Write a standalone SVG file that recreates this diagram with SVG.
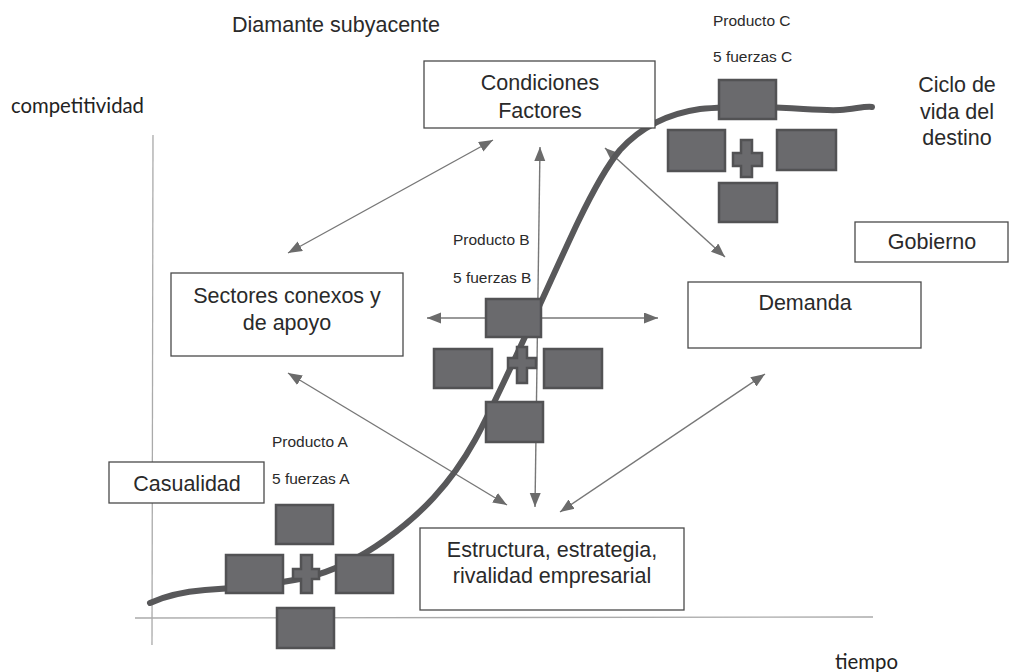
<svg xmlns="http://www.w3.org/2000/svg" width="1011" height="672" viewBox="0 0 1011 672">
<style>
.t{font-family:"Liberation Sans",Arial,sans-serif;font-size:21.5px;fill:#2a2a2a;text-anchor:middle}
.s{font-family:"Liberation Sans",Arial,sans-serif;font-size:15.5px;fill:#2a2a2a}
.c{font-family:Lato,"Open Sans",sans-serif;font-size:21px;fill:#222}
.box{fill:#fff;stroke:#4a4a4a;stroke-width:1.3}
.dk{fill:#6a6a6d;stroke:#525254;stroke-width:2.5}
.ar{fill:none;stroke:#777;stroke-width:1.4;marker-start:url(#ah);marker-end:url(#ah)}
.ax{fill:none;stroke:#aaa;stroke-width:1.3}
</style>
<defs>
<marker id="ah" markerUnits="userSpaceOnUse" markerWidth="15" markerHeight="12" refX="14" refY="5.5" orient="auto-start-reverse">
<path d="M0,0 L14,5.5 L0,11 Z" fill="#6b6b6b"/>
</marker>
</defs>
<rect width="1011" height="672" fill="#fff"/>
<g id="axes">
<line class="ax" x1="153" y1="135" x2="152" y2="645"/>
<line class="ax" x1="135" y1="618" x2="873" y2="617"/>
</g>
<g id="connectors">
<line class="ar" x1="288" y1="253" x2="493" y2="140"/>
<line class="ar" x1="535" y1="507" x2="540" y2="147"/>
<line class="ar" x1="427" y1="318" x2="658" y2="318"/>
<line class="ar" x1="605" y1="148" x2="725" y2="257"/>
<line class="ar" x1="288" y1="373" x2="507" y2="505"/>
<line class="ar" x1="560" y1="512" x2="765" y2="374"/>
</g>
<g id="curve">
<path d="M150,603 C165,596 180,592 205,590 C240,588 275,584 305,578 C335,571 360,558 385,540 C420,515 450,485 475,440 C500,395 555,270 578,222 C592,193 605,168 620,150 C640,128 665,114 700,109 C720,107 740,107 760,107 C800,108 820,111 840,110 C855,109 865,106 872,107" fill="none" stroke="#58585a" stroke-width="6" stroke-linecap="round"/>
</g>
<g id="productoA">
<rect class="dk" x="276" y="505" width="57" height="39"/>
<rect class="dk" x="226" y="555" width="57" height="38"/>
<rect class="dk" x="336" y="555" width="57" height="38"/>
<rect class="dk" x="277" y="608" width="57" height="40"/>
<path class="dk" d="M301,555 H312 V569 H319 V579 H312 V593 H301 V579 H293 V569 H301 Z"/>
<text class="s" x="272" y="447">Producto A</text>
<text class="s" x="272" y="484">5 fuerzas A</text>
</g>
<g id="productoB">
<rect class="dk" x="486" y="299" width="55" height="38"/>
<rect class="dk" x="434" y="349" width="58" height="39"/>
<rect class="dk" x="544" y="349" width="58" height="39"/>
<rect class="dk" x="486" y="402" width="57" height="40"/>
<path class="dk" d="M517,347 H527 V358 H536 V368 H527 V383 H517 V368 H508 V358 H517 Z"/>
<text class="s" x="453" y="245">Producto B</text>
<text class="s" x="453" y="283">5 fuerzas B</text>
</g>
<g id="productoC">
<rect class="dk" x="719" y="80" width="57" height="39"/>
<rect class="dk" x="668" y="130" width="57" height="41"/>
<rect class="dk" x="777" y="130" width="59" height="40"/>
<rect class="dk" x="719" y="183" width="58" height="39"/>
<path class="dk" d="M741,140 H752 V153 H762 V166 H752 V177 H741 V166 H733 V153 H741 Z"/>
<text class="s" x="713" y="26">Producto C</text>
<text class="s" x="713" y="62">5 fuerzas C</text>
</g>
<g id="condiciones">
<rect class="box" x="424" y="61" width="231" height="67"/>
<text class="t" x="540" y="90">Condiciones</text>
<text class="t" x="540" y="118">Factores</text>
</g>
<g id="sectores">
<rect class="box" x="171" y="273" width="232" height="83"/>
<text class="t" x="287" y="303">Sectores conexos y</text>
<text class="t" x="287" y="330">de apoyo</text>
</g>
<g id="demanda">
<rect class="box" x="688" y="282" width="233" height="66"/>
<text class="t" x="805" y="310">Demanda</text>
</g>
<g id="gobierno">
<rect class="box" x="855" y="222" width="153" height="40"/>
<text class="t" x="932" y="249">Gobierno</text>
</g>
<g id="casualidad">
<rect class="box" x="109" y="462" width="155" height="41"/>
<text class="t" x="187" y="491">Casualidad</text>
</g>
<g id="estructura">
<rect class="box" x="420" y="528" width="264" height="82"/>
<text class="t" x="552" y="557">Estructura, estrategia,</text>
<text class="t" x="552" y="583">rivalidad empresarial</text>
</g>
<g id="labels">
<text class="t" x="336" y="32">Diamante subyacente</text>
<text class="c" x="11" y="113" textLength="133" lengthAdjust="spacingAndGlyphs">competitividad</text>
<text class="c" x="835" y="669" textLength="63" lengthAdjust="spacingAndGlyphs">tiempo</text>
<text class="t" x="957" y="92">Ciclo de</text>
<text class="t" x="957" y="119">vida del</text>
<text class="t" x="957" y="145">destino</text>
</g>
</svg>
